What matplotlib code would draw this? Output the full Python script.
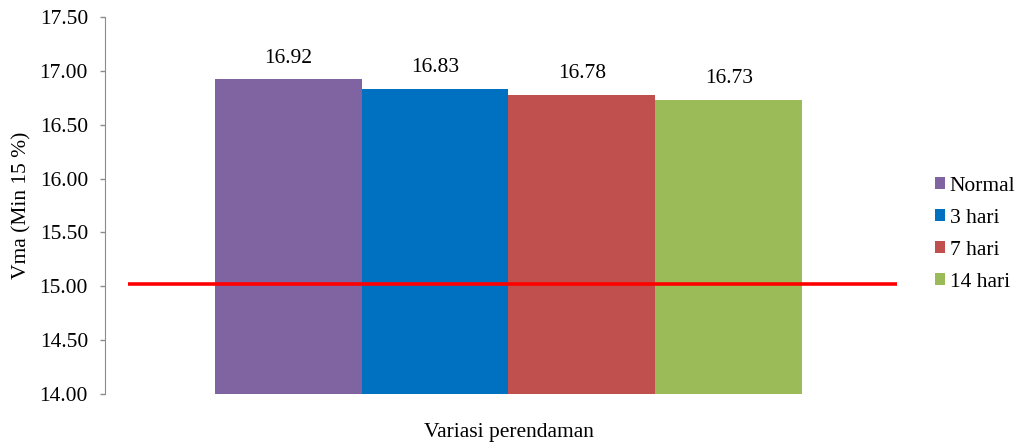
import matplotlib.pyplot as plt
from matplotlib.patches import Patch

plt.rcParams['font.family'] = ['Liberation Serif', 'DejaVu Serif']

series = ['Normal', '3 hari', '7 hari', '14 hari']
vma = [16.92, 16.83, 16.78, 16.73]
colors = ['#8064A2', '#0070C0', '#C0504D', '#9BBB59']
batas = 15.0

fs = 15.5
fig = plt.figure(figsize=(10.18, 4.42), dpi=100)
ax = fig.add_axes([0.1031, 0.1086, 0.7928, 0.8529])

bar_width = 0.182
offsets = [(i - 1.5) * bar_width for i in range(len(series))]
for off, val, col in zip(offsets, vma, colors):
    ax.bar(off, val - 14.0, bottom=14.0, width=bar_width, color=col)
    ax.text(off, val + 0.11, f"{val:.2f}", ha='center', va='bottom', fontsize=fs)

# garis batas minimum
ax.plot([-0.4715, 0.4814], [batas + 0.02, batas + 0.02], color='#FF0000', lw=2.6, solid_capstyle='butt')

ax.set_xlim(-0.5, 0.5)
ax.set_ylim(14.0, 17.5)
ax.set_yticks([14.0 + 0.5 * i for i in range(8)])
ax.set_yticklabels([f"{14.0 + 0.5 * i:.2f}" for i in range(8)], fontsize=fs)
ax.set_xticks([])
for s in ['top', 'right', 'bottom']:
    ax.spines[s].set_visible(False)
ax.spines['left'].set_color('#8C8C8C')
ax.tick_params(axis='y', color='#8C8C8C', length=3.6, width=1, pad=8.6)

ax.set_ylabel('Vma (Min 15 %)', fontsize=fs, labelpad=6)
ax.set_xlabel('Variasi perendaman', fontsize=fs, labelpad=21)

handles = [Patch(facecolor=c) for c in colors]
fig.legend(handles, series, loc='center left', bbox_to_anchor=(0.899, 0.47),
           frameon=False, fontsize=fs, handlelength=0.5, handleheight=0.5,
           handletextpad=0.2, labelspacing=0.6)

fig.savefig('out.png', dpi=100)
